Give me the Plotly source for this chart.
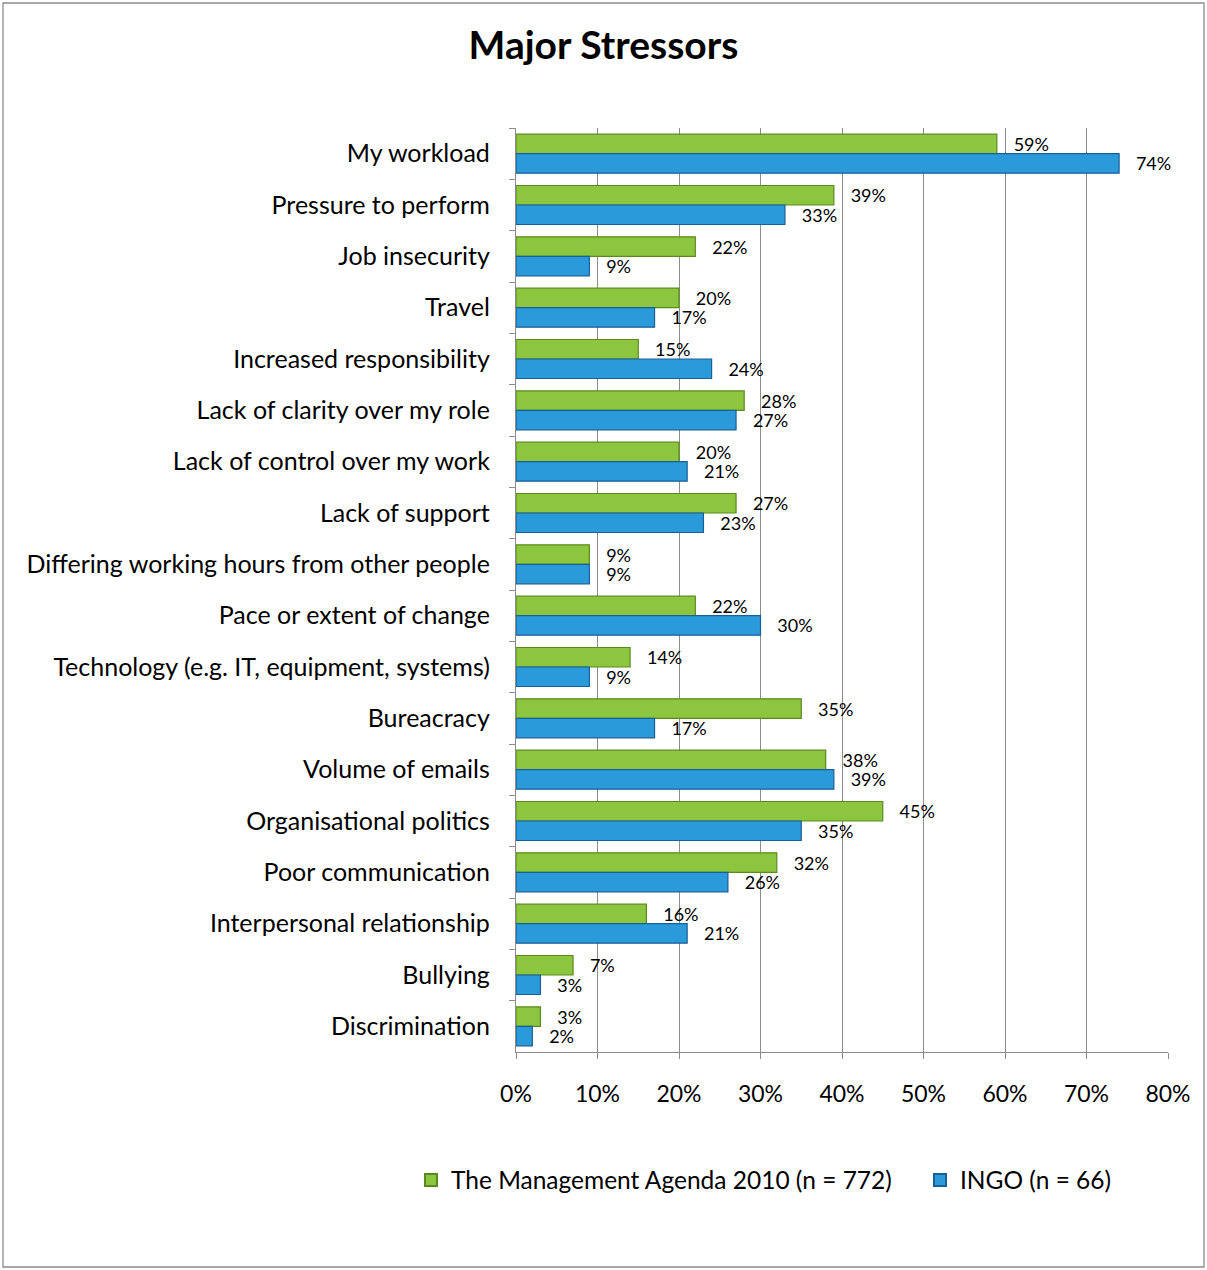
import plotly.graph_objects as go

categories = [
    "My workload", "Pressure to perform", "Job insecurity", "Travel",
    "Increased responsibility", "Lack of clarity over my role",
    "Lack of control over my work", "Lack of support",
    "Differing working hours from other people", "Pace or extent of change",
    "Technology (e.g. IT, equipment, systems)", "Bureacracy", "Volume of emails",
    "Organisational politics", "Poor communication", "Interpersonal relationship",
    "Bullying", "Discrimination",
]
management_agenda = [59, 39, 22, 20, 15, 28, 20, 27, 9, 22, 14, 35, 38, 45, 32, 16, 7, 3]
ingo = [74, 33, 9, 17, 24, 27, 21, 23, 9, 30, 9, 17, 39, 35, 26, 21, 3, 2]
x_ticks = [0, 10, 20, 30, 40, 50, 60, 70, 80]
x_tick_labels = [f"{v}%" for v in x_ticks]

FONT = "Lato, 'Open Sans', sans-serif"

fig = go.Figure()
fig.add_trace(go.Bar(
    y=categories, x=management_agenda, orientation="h",
    name="The Management Agenda 2010 (n = 772)",
    marker=dict(color="#8CC63E", line=dict(color="#5A8A1F", width=1.2)),
    text=[f"   {v}%" for v in management_agenda], textposition="outside",
    constraintext="none",
    textfont=dict(size=18, color="black", family=FONT), cliponaxis=False,
))
fig.add_trace(go.Bar(
    y=categories, x=ingo, orientation="h",
    name="INGO (n = 66)",
    marker=dict(color="#2A9ADB", line=dict(color="#1A5F95", width=1.2)),
    text=[f"   {v}%" for v in ingo], textposition="outside",
    constraintext="none",
    textfont=dict(size=18, color="black", family=FONT), cliponaxis=False,
))

W, H = 1207, 1270
ml, mr, mt, mb = 516, 39, 128, 218
pw, ph = W - ml - mr, H - mt - mb

fig.update_layout(
    width=W, height=H,
    margin=dict(l=ml, r=mr, t=mt, b=mb, autoexpand=False),
    paper_bgcolor="white", plot_bgcolor="white",
    font=dict(family=FONT, size=25, color="black"),
    barmode="group", bargap=0.24, bargroupgap=0.0,
    title=dict(text="<b>Major Stressors</b>", x=0.5, xanchor="center",
               y=1 - 45 / H, yanchor="middle", font=dict(size=39, family=FONT)),
    legend=dict(orientation="h",
                x=(411 - ml) / pw, xanchor="left",
                y=-(1180 - (mt + ph)) / ph, yanchor="middle",
                bgcolor="rgba(0,0,0,0)",
                font=dict(size=24.5, family=FONT), itemsizing="constant",
                traceorder="normal", itemwidth=30, entrywidth=464),
    xaxis=dict(range=[0, 80], tickvals=x_ticks, ticktext=x_tick_labels,
               tickfont=dict(size=23),
               showgrid=True, gridcolor="#8C8C8C", gridwidth=1.3,
               showline=True, linecolor="#8C8C8C", linewidth=1.3,
               ticks="outside", ticklen=6, tickcolor="#8C8C8C",
               ticklabelstandoff=15, zeroline=False),
    yaxis=dict(categoryorder="array", categoryarray=categories,
               autorange="reversed", showline=True, linecolor="#8C8C8C",
               linewidth=1.3, ticks="outside", ticklen=6, tickcolor="#8C8C8C",
               tickson="boundaries", ticklabelstandoff=20, showgrid=False),
    shapes=[dict(type="rect", xref="paper", yref="paper",
                 x0=(3 - ml) / pw, x1=(1204 - ml) / pw,
                 y0=(mt + ph - 1267) / ph, y1=(mt + ph - 3) / ph,
                 line=dict(color="#8C8C8C", width=1.3), fillcolor="rgba(0,0,0,0)")],
)

fig.write_html("out.html", config={"displayModeBar": False},
               post_script="document.body.style.margin='0';document.body.style.overflow='hidden';")
